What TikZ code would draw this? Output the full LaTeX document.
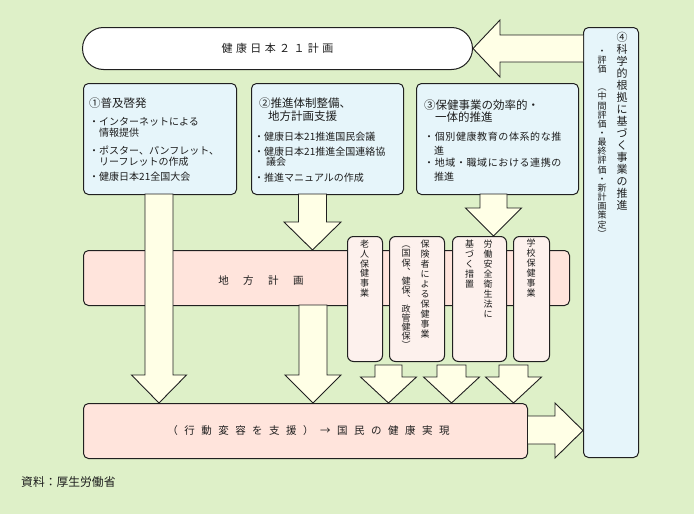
\documentclass[tikz,border=0pt]{standalone}
\usepackage{fontspec}
\setmainfont{Noto Sans CJK JP}
\usetikzlibrary{calc}
\definecolor{bgc}{RGB}{222,240,200}
\definecolor{boxblue}{RGB}{230,245,250}
\definecolor{arrowc}{RGB}{255,255,230}
\definecolor{pinkc}{RGB}{255,228,220}
\definecolor{vpink}{RGB}{253,241,237}
\definecolor{linec}{RGB}{32,32,32}
\definecolor{textc}{RGB}{30,30,30}
\makeatletter
\newcommand\spacedtext[2]{{\def\st@gap{#1}\let\st@flag\relax\@tfor\st@c:=#2\do{\ifx\st@flag\relax\let\st@flag\empty\else\hspace{\st@gap}\fi\st@c}}}
\makeatother
\newcommand\downarr[6]{\filldraw[blk] ({#1-#5},#2) -- ({#1+#5},#2) -- ({#1+#5},#3) -- ({#1+#6},#3) -- (#1,#4) -- ({#1-#6},#3) -- ({#1-#5},#3) -- cycle;}
\tikzset{
  blk/.style={fill=arrowc, draw=linec, line width=0.9pt, line join=miter},
  frame/.style={draw=linec, line width=1pt, inner sep=0pt, anchor=north west},
  bluebox/.style={frame, fill=boxblue, rounded corners=5pt},
  pinkbox/.style={frame, fill=pinkc, rounded corners=5pt},
  vbox/.style={frame, fill=vpink, rounded corners=6pt},
  vtext/.style={align=center, inner sep=0pt, text=textc},
  ttl/.style={anchor=west, inner sep=0pt, text=textc, font=\fontsize{11.5}{12}\selectfont},
  itm/.style={anchor=west, inner sep=0pt, text=textc, font=\fontsize{10}{11}\selectfont},
}
\begin{document}
\begin{tikzpicture}[x=1pt, y=-1pt]
\useasboundingbox (0,0) rectangle (694,514);
\fill[bgc] (0,0) rectangle (694,514);

% top plan pill
\node[frame, fill=white, rounded corners=21pt, minimum width=390pt, minimum height=42pt,
      text=textc, font=\fontsize{11}{12}\selectfont] (plan) at (82,27) {\spacedtext{3.4pt}{健康日本２１計画}};

% right panel
\node[bluebox, minimum width=55pt, minimum height=430pt] (panel) at (583,27) {};
\node[vtext, font=\fontsize{11}{12}\selectfont] (p1) at (622,121)
  {④\\科\\学\\的\\根\\拠\\に\\基\\づ\\く\\事\\業\\の\\推\\進};
\node[vtext, font=\fontsize{9}{9.15}\selectfont] (p2) at (602,143.5)
  {・\\評\\価\\　\\︵\\中\\間\\評\\価\\・\\最\\終\\評\\価\\・\\新\\計\\画\\策\\定\\︶};

% arrow from panel to plan
\filldraw[blk] (panel.west |- 0,35) -- (500,35) -- (500,20) -- (plan.east) -- (500,77) -- (500,62) -- (panel.west |- 0,62);

% three upper boxes
\node[bluebox, minimum width=153pt, minimum height=111pt] (b1) at (83,83) {};
\node[bluebox, minimum width=152pt, minimum height=111pt] (b2) at (251,83) {};
\node[bluebox, minimum width=162pt, minimum height=111pt] (b3) at (416,83) {};

\node[ttl] (b1a) at (89,103) {①普及啓発};
\node[itm] (b1b) at (89,122) {・インターネットによる};
\node[itm] (b1c) at (99,133) {情報提供};
\node[itm] (b1d) at (89,151) {・ポスター、パンフレット、};
\node[itm] (b1e) at (99,162) {リーフレットの作成};
\node[itm] (b1f) at (89,177) {・健康日本21全国大会};

\node[ttl] (b2a) at (259,103) {②推進体制整備、};
\node[ttl] (b2b) at (268,116) {地方計画支援};
\node[itm] (b2c) at (254,137) {・健康日本21推進国民会議};
\node[itm] (b2d) at (254,152) {・健康日本21推進全国連絡協};
\node[itm] (b2e) at (266,162) {議会};
\node[itm] (b2f) at (254,178) {・推進マニュアルの作成};

\node[ttl] (b3a) at (424,105) {③保健事業の効率的・};
\node[ttl] (b3b) at (435,117) {一体的推進};
\node[itm] (b3c) at (424,137) {\spacedtext{0.6pt}{・個別健康教育の体系的な推}};
\node[itm] (b3d) at (434,151) {進};
\node[itm] (b3e) at (424,163) {\spacedtext{0.6pt}{・地域・職域における連携の}};
\node[itm] (b3f) at (434,177) {推進};

% regional plan band
\node[pinkbox, minimum width=486pt, minimum height=55pt] (band) at (83,250) {};
\node[inner sep=0pt, text=textc, font=\fontsize{10.5}{12}\selectfont] (bandt) at (261,281) {\spacedtext{14.5pt}{地方計画}};

% vertical boxes
\node[vbox, minimum width=35pt, minimum height=125pt] (v1) at (347,236) {};
\node[vbox, minimum width=55pt, minimum height=125pt] (v2) at (389,236) {};
\node[vbox, minimum width=54pt, minimum height=125pt] (v3) at (452,236) {};
\node[vbox, minimum width=36pt, minimum height=125pt] (v4) at (513,236) {};

\node[vtext, font=\fontsize{9}{9.8}\selectfont] (v1t) at (364.5,268.5) {老\\人\\保\\健\\事\\業};
\node[vtext, font=\fontsize{9}{10}\selectfont] (v2t) at (425,289) {保\\険\\者\\に\\よ\\る\\保\\健\\事\\業};
\node[vtext, font=\fontsize{9}{9.2}\selectfont] (v2u) at (406,297.5) {︵\\国\\保\\︑\\健\\保\\︑\\政\\管\\健\\保\\︶};
\node[vtext, font=\fontsize{9}{10}\selectfont] (v3t) at (488,279) {労\\働\\安\\全\\衛\\生\\法\\に};
\node[vtext, font=\fontsize{9}{10}\selectfont] (v3u) at (469.5,264) {基\\づ\\く\\措\\置};
\node[vtext, font=\fontsize{9}{10}\selectfont] (v4t) at (531,268) {学\\校\\保\\健\\事\\業};

% bottom box
\node[pinkbox, minimum width=444pt, minimum height=55pt, text=textc, font=\fontsize{10.5}{12}\selectfont] (res) at (83,403)
  {\hspace{6pt}\spacedtext{6.5pt}{（行動変容を支援）→国民の健康実現}};

% block arrows
\downarr{159}{194}{375}{403}{14}{27.5}
\downarr{312.5}{194}{222}{250}{14}{28.5}
\downarr{313}{305}{375}{403}{14}{28}
\downarr{493.5}{194}{208}{236}{13.5}{28}
\downarr{388.5}{365}{377}{403}{13.5}{28}
\downarr{451.5}{365}{377}{403}{14.5}{28}
\downarr{513.5}{365}{377}{403}{14.5}{28}

% arrow from result to panel
\filldraw[blk] (res.east |- 0,416) -- (555,416) -- (555,403) -- (panel.west |- 0,430.5) -- (555,458) -- (555,444) -- (res.east |- 0,444);

% source
\node[anchor=west, inner sep=0pt, text=textc, font=\fontsize{11.8}{13}\selectfont] (src) at (21,482) {資料：厚生労働省};
\end{tikzpicture}
\end{document}
